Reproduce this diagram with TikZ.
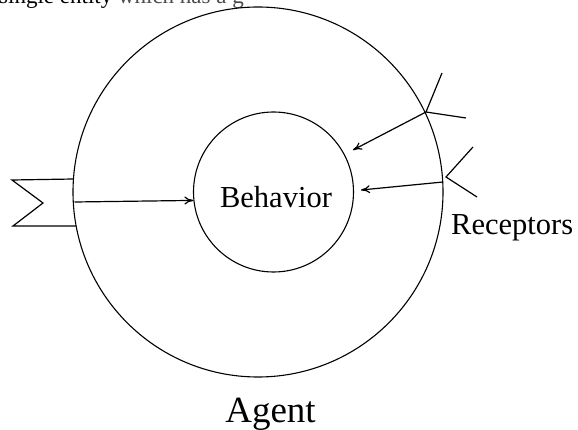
\documentclass[tikz,border=0pt]{standalone}
\usepackage{fontspec}
\setmainfont{Liberation Serif}
\usetikzlibrary{arrows.meta}
\tikzset{
  ring/.style={circle,draw,inner sep=0pt,line width=1.1pt},
  conn/.style={line width=1.2pt,-{To[length=9pt,width=8pt]}},
  feeler/.style={line width=1.2pt},
  lbl/.style={inner sep=0pt,font=\fontsize{30.5}{36}\selectfont},
  biglbl/.style={inner sep=0pt,font=\fontsize{37}{44}\selectfont}
}
\begin{document}
\begin{tikzpicture}[x=1pt,y=-1pt]
\useasboundingbox (0,0) rectangle (578,430);
\begin{scope}
\clip (0,0) rectangle (578,430);
\node[inner sep=0pt,anchor=base west,font=\fontsize{23}{28}\selectfont] (topline) at (-1,3.5) {single entity \textcolor{black!70}{which has a g}};
\end{scope}
% circles
\node[ring,minimum size=370pt] (agent) at (258,192) {};
\node[ring,minimum size=160pt] (behavior) at (273.5,192) {};
\node[lbl,anchor=base] (behaviortext) at (276,208) {Behavior};
% receptors
\coordinate (r1) at (426,112);
\coordinate (r1a) at (442,73);
\coordinate (r1b) at (466,118);
\coordinate (r2) at (446,177);
\coordinate (r2a) at (473,147);
\coordinate (r2b) at (477,197);
\coordinate (s2) at (443,182);
\coordinate (t1) at (353,150);
\coordinate (t2) at (361,190);
\draw[feeler] (r1a) -- (r1) -- (r1b);
\draw[feeler] (r2a) -- (r2) -- (r2b);
\draw[conn] (r1) -- (t1);
\draw[conn] (s2) -- (t2);
\node[lbl,anchor=base west] (receptors) at (451,235) {Receptors};
% effector flag
\coordinate (f1) at (73.5,179);
\coordinate (f2) at (12,180);
\coordinate (f3) at (43,203);
\coordinate (f4) at (13,226);
\coordinate (f5) at (76,226);
\coordinate (s3) at (74.5,202);
\draw[feeler,line join=miter] (f1) -- (f2) -- (f3) -- (f4) -- (f5);
\draw[conn] (s3) -- (behavior.186);
% agent label
\node[biglbl,anchor=base] (agenttext) at (270.5,422) {Agent};
\end{tikzpicture}
\end{document}
